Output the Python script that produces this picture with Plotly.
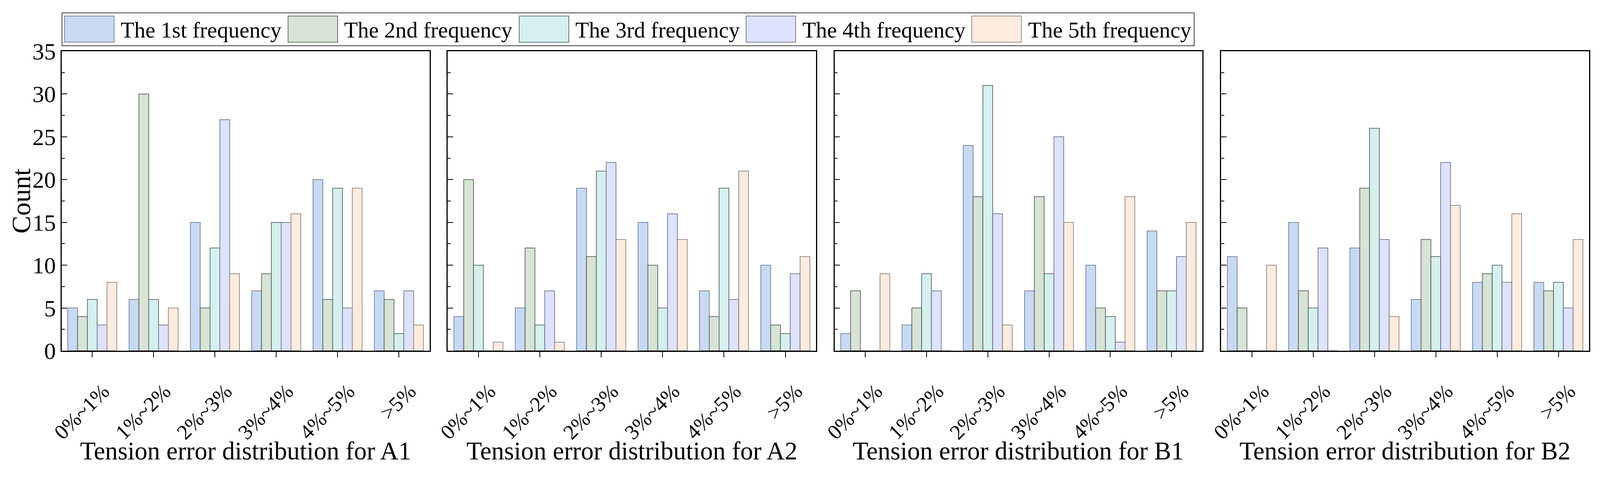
import plotly.graph_objects as go

# Error bins and the four measurement points
categories = ["0%~1%", "1%~2%", "2%~3%", "3%~4%", "4%~5%", ">5%"]
panels = ["A1", "A2", "B1", "B2"]
series_names = [
    "The 1st frequency",
    "The 2nd frequency",
    "The 3rd frequency",
    "The 4th frequency",
    "The 5th frequency",
]

# Counts per frequency, one list per panel
a1_counts = [
    [5, 6, 15, 7, 20, 7],
    [4, 30, 5, 9, 6, 6],
    [6, 6, 12, 15, 19, 2],
    [3, 3, 27, 15, 5, 7],
    [8, 5, 9, 16, 19, 3],
]
a2_counts = [
    [4, 5, 19, 15, 7, 10],
    [20, 12, 11, 10, 4, 3],
    [10, 3, 21, 5, 19, 2],
    [0, 7, 22, 16, 6, 9],
    [1, 1, 13, 13, 21, 11],
]
b1_counts = [
    [2, 3, 24, 7, 10, 14],
    [7, 5, 18, 18, 5, 7],
    [0, 9, 31, 9, 4, 7],
    [0, 7, 16, 25, 1, 11],
    [9, 0, 3, 15, 18, 15],
]
b2_counts = [
    [11, 15, 12, 6, 8, 8],
    [5, 7, 19, 13, 9, 7],
    [0, 5, 26, 11, 10, 8],
    [0, 12, 13, 22, 8, 5],
    [10, 0, 4, 17, 16, 13],
]
panel_counts = [a1_counts, a2_counts, b1_counts, b2_counts]

fill_colors = ["#C8DAF3", "#D7E3D5", "#D5F0EF", "#DEE2FC", "#FDEBDE"]
edge_colors = ["#5F6B80", "#3E4A40", "#3C4E4E", "#5A5E78", "#7A706A"]

FONT = "Liberation Serif"

# The visible page is narrower than the reference picture, so the layout
# (measured in reference pixels) is squeezed horizontally to fit it.
REF_W = 4389
VIEW_W = 4097
SX = VIEW_W / REF_W
BODY = 8
WF, HF = 4075, 1205

# reference pixel layout of the four frames
panel_px = [(169, 1178), (1228, 2238), (2289, 3297), (3349, 4358)]
plot_top, plot_bottom = 131, 897


def fx(v):
    return (v * SX - BODY) / WF


def fy(v):
    return 1 - (v - BODY) / HF


fig = go.Figure()

for i, (name, counts) in enumerate(zip(panels, panel_counts)):
    ax = "" if i == 0 else str(i + 1)
    for s, vals in enumerate(counts):
        fig.add_trace(
            go.Bar(
                x=categories,
                y=vals,
                name=series_names[s],
                marker=dict(color=fill_colors[s], line=dict(color=edge_colors[s], width=1.5)),
                xaxis="x" + ax,
                yaxis="y" + ax,
                showlegend=False,
            )
        )

    x0, x1 = panel_px[i]
    fig.update_layout(
        {
            "xaxis" + ax: dict(
                domain=[fx(x0), fx(x1)],
                anchor="y" + ax,
                type="category",
                range=[-0.5, 5.5],
                showline=True,
                linecolor="black",
                linewidth=2.5,
                mirror=True,
                ticks="outside",
                ticklen=14,
                tickwidth=2,
                tickcolor="black",
                tickangle=-45,
                ticklabelstandoff=34,
                ticklabelshift=28,
                tickfont=dict(family=FONT, size=54, color="black"),
                showgrid=False,
                zeroline=False,
                automargin=False,
            ),
            "yaxis" + ax: dict(
                domain=[fy(plot_bottom), fy(plot_top)],
                anchor="x" + ax,
                range=[0, 35],
                dtick=5,
                showline=True,
                linecolor="black",
                linewidth=2.5,
                mirror=True,
                ticks="inside",
                ticklen=14,
                tickwidth=2,
                tickcolor="black",
                minor=dict(dtick=2.5, ticks="inside", ticklen=8, tickwidth=2, tickcolor="black"),
                showticklabels=(i == 0),
                tickfont=dict(family=FONT, size=60, color="black"),
                showgrid=False,
                zeroline=False,
                automargin=False,
            ),
        }
    )

    fig.add_annotation(
        text="Tension error distribution for " + name,
        xref="paper",
        yref="paper",
        x=fx((x0 + x1) / 2),
        y=fy(1153),
        xanchor="center",
        yanchor="middle",
        showarrow=False,
        font=dict(family=FONT, size=65, color="black"),
    )

# y title
fig.add_annotation(
    text="Count",
    xref="paper",
    yref="paper",
    x=fx(58),
    y=fy(514),
    xanchor="center",
    yanchor="middle",
    textangle=-90,
    showarrow=False,
    font=dict(family=FONT, size=68, color="black"),
)

# legend drawn by hand so the swatches can be wide like the original
legend_box = (170, 33, 3275, 117)
swatch_left = [177, 790, 1424, 2046, 2665]
swatch_w, swatch_top, swatch_bottom = 136, 41, 108

shapes = [
    dict(
        type="rect",
        xref="paper",
        yref="paper",
        x0=fx(legend_box[0]),
        x1=fx(legend_box[2]),
        y0=fy(legend_box[3]),
        y1=fy(legend_box[1]),
        line=dict(color="black", width=1.5),
        fillcolor="white",
    )
]
for s, left in enumerate(swatch_left):
    shapes.append(
        dict(
            type="rect",
            xref="paper",
            yref="paper",
            x0=fx(left),
            x1=fx(left + swatch_w),
            y0=fy(swatch_bottom),
            y1=fy(swatch_top),
            fillcolor=fill_colors[s],
            line=dict(color=edge_colors[s], width=1.5),
        )
    )
    fig.add_annotation(
        text=series_names[s],
        xref="paper",
        yref="paper",
        x=fx(left + swatch_w + 16),
        y=fy((swatch_top + swatch_bottom) / 2 + 2),
        xanchor="left",
        yanchor="middle",
        showarrow=False,
        font=dict(family=FONT, size=57, color="black"),
    )

fig.update_layout(
    width=WF,
    height=HF,
    margin=dict(l=0, r=0, t=0, b=0),
    paper_bgcolor="white",
    plot_bgcolor="white",
    barmode="group",
    bargap=0.2,
    bargroupgap=0,
    shapes=shapes,
    showlegend=False,
    font=dict(family=FONT, color="black"),
)

fig.write_html("out.html")
